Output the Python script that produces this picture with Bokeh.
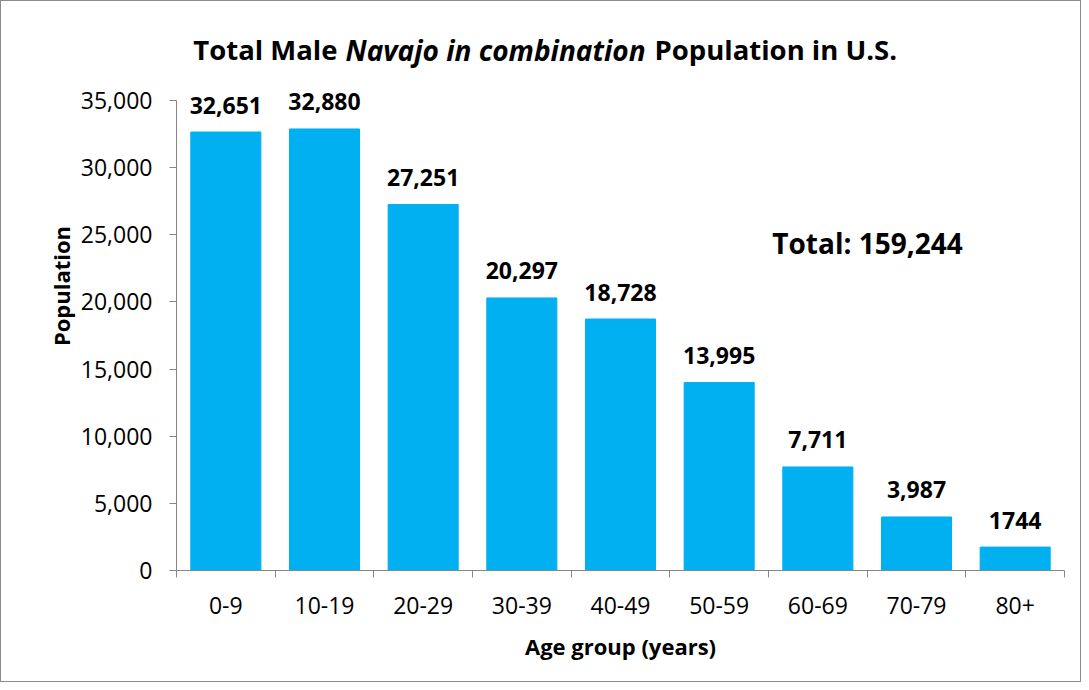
from bokeh.plotting import figure
from bokeh.models import (Range1d, FixedTicker, NumeralTickFormatter, CustomJSTickFormatter,
                          Label, LabelSet, ColumnDataSource)
from bokeh.core.properties import value
from bokeh.embed import file_html
from bokeh.resources import INLINE

# ---- data ----
age_groups = ["0-9", "10-19", "20-29", "30-39", "40-49", "50-59", "60-69", "70-79", "80+"]
population = [32651, 32880, 27251, 20297, 18728, 13995, 7711, 3987, 1744]
value_labels = ["32,651", "32,880", "27,251", "20,297", "18,728", "13,995", "7,711", "3,987", "1744"]
y_ticks = [0, 5000, 10000, 15000, 20000, 25000, 30000, 35000]
title_parts = ["Total Male", "Navajo in combination", "Population  in U.S."]
total_text = "Total: 159,244"
x_title = "Age group (years)"
y_title = "Population"

FONT = "Open Sans"
GRAY = "#868686"
BAR = "#00B0F0"

W, H = 1081, 682
L, R, B = 175, 18, 113
axis_px = 470                 # pixel height of 0..35000
frame_w = W - L - R
frame_h = H - B               # frame runs to the top of the canvas
y_max = y_ticks[-1]
n = len(age_groups)
ux = n / frame_w              # data units per px (x)
uy = y_max / axis_px          # data units per px (y)

p = figure(width=W, height=H, output_backend="svg", toolbar_location=None,
           x_range=Range1d(0, n), y_range=Range1d(0, frame_h * uy),
           min_border_left=L, min_border_right=R, min_border_top=0, min_border_bottom=B)
p.styles = {"border": "1px solid #8c8c8c", "box-sizing": "border-box"}
p.outline_line_color = None
p.xgrid.visible = False
p.ygrid.visible = False
p.background_fill_color = "white"
p.border_fill_color = "white"

centers = [i + 0.5 for i in range(n)]
src = ColumnDataSource(dict(x=centers, top=population, lab=value_labels))
p.vbar(x="x", top="top", width=0.71, bottom=0, source=src, fill_color=BAR, line_color=BAR)

labels = LabelSet(x="x", y="top", text="lab", source=src, text_align="center",
                  text_baseline="middle", y_offset=27, text_font=value(FONT),
                  text_font_size=value("23px"), text_font_style=value("bold"),
                  text_color=value("black"))
p.add_layout(labels)

# x axis
xa = p.xaxis[0]
xa.ticker = FixedTicker(ticks=centers, minor_ticks=list(range(n + 1)))
xa.formatter = CustomJSTickFormatter(args=dict(labels=age_groups),
                                     code="return labels[Math.floor(tick)]")
xa.major_tick_out = 0
xa.major_tick_in = 0
xa.minor_tick_out = 7
xa.minor_tick_in = 0
xa.minor_tick_line_color = GRAY
xa.axis_line_color = GRAY
xa.major_label_text_font = FONT
xa.major_label_text_font_size = "23px"
xa.major_label_text_color = "black"
xa.major_label_standoff = 19
xa.axis_label = x_title
xa.axis_label_text_font = FONT
xa.axis_label_text_font_size = "22px"
xa.axis_label_text_font_style = "bold"
xa.axis_label_text_color = "black"
xa.axis_label_standoff = 14

# y axis
ya = p.yaxis[0]
ya.ticker = FixedTicker(ticks=y_ticks)
ya.formatter = NumeralTickFormatter(format="0,0")
ya.bounds = (0, y_max)
ya.major_tick_out = 7
ya.major_tick_in = 0
ya.minor_tick_out = 0
ya.minor_tick_in = 0
ya.major_tick_line_color = GRAY
ya.axis_line_color = GRAY
ya.major_label_text_font = FONT
ya.major_label_text_font_size = "23px"
ya.major_label_text_color = "black"
ya.major_label_standoff = 17
ya.axis_label = y_title
ya.axis_label_text_font = FONT
ya.axis_label_text_font_size = "22px"
ya.axis_label_text_font_style = "bold"
ya.axis_label_text_color = "black"
ya.axis_label_standoff = 2

# title (mixed styles)
ty = (frame_h - 48) * uy
p.add_layout(Label(x=(336 - L) * ux, y=ty, text=title_parts[0], text_font=FONT,
                   text_font_size="27.5px", text_font_style="bold", text_baseline="middle",
                   text_align="right", text_color="black"))
p.add_layout(Label(x=(344 - L) * ux, y=ty, text=title_parts[1], text_font=FONT,
                   text_font_size="28px", text_font_style="bold italic", text_baseline="middle",
                   text_align="left", text_color="black"))
p.add_layout(Label(x=(653 - L) * ux, y=ty, text=title_parts[2], text_font=FONT,
                   text_font_size="27.5px", text_font_style="bold", text_baseline="middle",
                   text_align="left", text_color="black"))

# total annotation
p.add_layout(Label(x=(866 - L) * ux, y=(frame_h - 241) * uy, text=total_text, text_font=FONT,
                   text_font_size="28px", text_font_style="bold", text_baseline="middle",
                   text_align="center", text_color="black"))

open("out.html", "w").write(file_html(p, INLINE))
